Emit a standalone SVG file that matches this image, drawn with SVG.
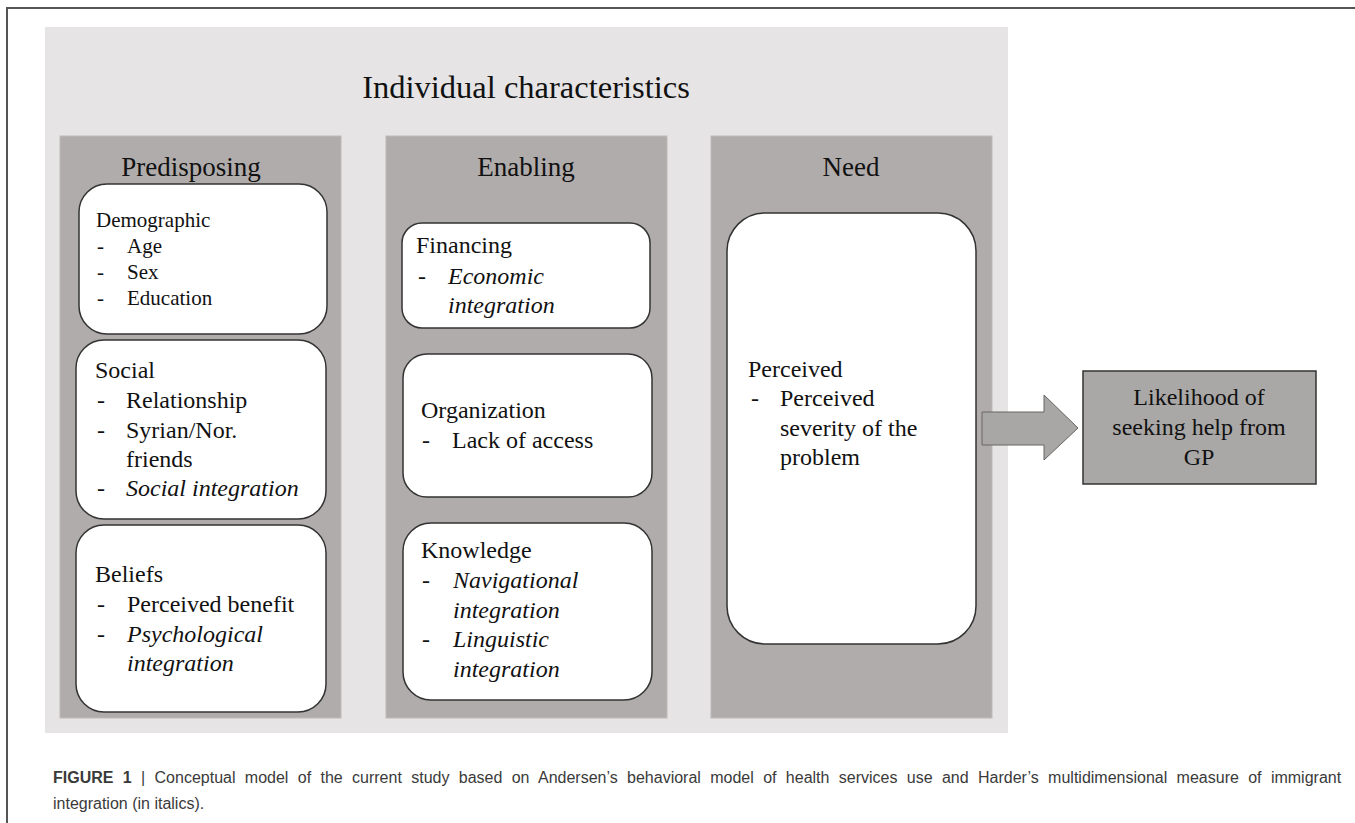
<svg xmlns="http://www.w3.org/2000/svg" width="1355" height="823" viewBox="0 0 1355 823">
<style>
.t{font-family:"Liberation Serif","Times New Roman",serif;fill:#111;}
.h{font-size:27px;}
.b{font-size:24px;}
.s{font-size:21px;}
.i{font-style:italic;}
.box{fill:#fff;stroke:#333;stroke-width:1.5;}
.col{fill:#b0acab;stroke:#bdbab9;stroke-width:1;}
.cap{font-family:"Liberation Sans",Arial,sans-serif;font-size:16px;fill:#3a3a3a;}
</style>
<rect width="1355" height="823" fill="#fff"/>
<path d="M7,823 V8 H1355" fill="none" stroke="#555" stroke-width="2"/>
<g id="frame">
<rect x="45" y="27" width="963" height="706" fill="#e6e4e5"/>
<text class="t" x="526" y="98" font-size="32.5" text-anchor="middle">Individual characteristics</text>
</g>
<g id="predisposing">
<rect class="col" x="60" y="136" width="281" height="582"/>
<text class="t h" x="191" y="176" text-anchor="middle">Predisposing</text>
</g>
<g id="demographic">
<rect class="box" x="79" y="184" width="248" height="150" rx="28"/>
<text class="t s" x="96" y="227">Demographic</text>
<text class="t s" x="97" y="253">-</text><text class="t s" x="127" y="253">Age</text>
<text class="t s" x="97" y="279">-</text><text class="t s" x="127" y="279">Sex</text>
<text class="t s" x="97" y="305">-</text><text class="t s" x="127" y="305">Education</text>
</g>
<g id="social">
<rect class="box" x="76" y="340" width="250" height="179" rx="28"/>
<text class="t b" x="95" y="378">Social</text>
<text class="t b" x="97" y="408">-</text><text class="t b" x="126" y="408">Relationship</text>
<text class="t b" x="97" y="438">-</text><text class="t b" x="126" y="438">Syrian/Nor.</text>
<text class="t b" x="126" y="467">friends</text>
<text class="t b" x="97" y="496">-</text><text class="t b i" x="126" y="496">Social integration</text>
</g>
<g id="beliefs">
<rect class="box" x="76" y="525" width="250" height="187" rx="28"/>
<text class="t b" x="95" y="582">Beliefs</text>
<text class="t b" x="97" y="612">-</text><text class="t b" x="127" y="612">Perceived benefit</text>
<text class="t b" x="97" y="642">-</text><text class="t b i" x="127" y="642">Psychological</text>
<text class="t b i" x="127" y="671">integration</text>
</g>
<g id="enabling">
<rect class="col" x="386" y="136" width="281" height="582"/>
<text class="t h" x="526" y="176" text-anchor="middle">Enabling</text>
</g>
<g id="financing">
<rect class="box" x="402" y="223" width="248" height="105" rx="20"/>
<text class="t b" x="416" y="253">Financing</text>
<text class="t b" x="418" y="284">-</text><text class="t b i" x="448" y="284">Economic</text>
<text class="t b i" x="448" y="313">integration</text>
</g>
<g id="organization">
<rect class="box" x="403" y="354" width="249" height="143" rx="24"/>
<text class="t b" x="421" y="418">Organization</text>
<text class="t b" x="422" y="448">-</text><text class="t b" x="452" y="448">Lack of access</text>
</g>
<g id="knowledge">
<rect class="box" x="403" y="523" width="249" height="177" rx="28"/>
<text class="t b" x="421" y="558">Knowledge</text>
<text class="t b" x="422" y="588">-</text><text class="t b i" x="453" y="588">Navigational</text>
<text class="t b i" x="453" y="618">integration</text>
<text class="t b" x="422" y="647">-</text><text class="t b i" x="453" y="647">Linguistic</text>
<text class="t b i" x="453" y="677">integration</text>
</g>
<g id="need">
<rect class="col" x="711" y="136" width="281" height="582"/>
<text class="t h" x="851" y="176" text-anchor="middle">Need</text>
</g>
<g id="perceived">
<rect class="box" x="727" y="213" width="249" height="431" rx="38"/>
<text class="t b" x="748" y="377">Perceived</text>
<text class="t b" x="751" y="406">-</text><text class="t b" x="780" y="406">Perceived</text>
<text class="t b" x="780" y="436">severity of the</text>
<text class="t b" x="780" y="465">problem</text>
</g>
<g id="connectors">
<polygon points="982,412 1044,412 1044,395 1078,428 1044,460 1044,445 982,445" fill="#a9a7a6" stroke="#666" stroke-width="1"/>
</g>
<g id="likelihood">
<rect x="1083" y="371" width="233" height="113" fill="#aaa8a7" stroke="#333" stroke-width="1.5"/>
<text class="t b" x="1199" y="405" text-anchor="middle" font-size="25">Likelihood of</text>
<text class="t b" x="1199" y="435" text-anchor="middle" font-size="25">seeking help from</text>
<text class="t b" x="1199" y="465" text-anchor="middle" font-size="25">GP</text>
</g>
<g id="caption">
<text class="cap" x="53" y="783" word-spacing="4.9"><tspan font-weight="bold">FIGURE 1</tspan> | Conceptual model of the current study based on Andersen’s behavioral model of health services use and Harder’s multidimensional measure of immigrant</text>
<text class="cap" x="53" y="809">integration (in italics).</text>
</g>
</svg>
